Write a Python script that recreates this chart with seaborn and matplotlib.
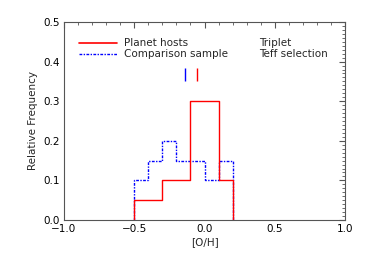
import matplotlib
matplotlib.use("Agg")
import matplotlib.pyplot as plt
import seaborn as sns
import numpy as np
import pandas as pd
from matplotlib.ticker import MultipleLocator

bin_edges = [-0.5, -0.4, -0.3, -0.2, -0.1, 0.0, 0.1, 0.2]
planet_freq = [0.05, 0.05, 0.10, 0.10, 0.30, 0.30, 0.10]
comparison_freq = [0.10, 0.15, 0.20, 0.15, 0.15, 0.10, 0.15]
planet_mean = -0.05
comparison_mean = -0.14
mean_marker_span = [0.352, 0.385]


def outline(edges, freq):
    xs, ys = [edges[0]], [0.0]
    for i, f in enumerate(freq):
        xs += [edges[i], edges[i + 1]]
        ys += [f, f]
    xs.append(edges[-1])
    ys.append(0.0)
    return pd.DataFrame({"x": xs, "y": ys})


sns.set_style("white")
plt.rcParams['font.family'] = ['DejaVu Sans']
plt.rcParams['font.size'] = 7.5

fig = plt.figure(figsize=(3.65, 2.61), dpi=100)
ax = fig.add_axes([64/365, 41/261, 281/365, 198/261])

sns.lineplot(data=outline(bin_edges, comparison_freq), x="x", y="y", sort=False,
             estimator=None, color="#0000ff", linestyle=(0, (2, 1, 1, 1)), linewidth=1.0, ax=ax)
sns.lineplot(data=outline(bin_edges, planet_freq), x="x", y="y", sort=False,
             estimator=None, color="#ff0000", linewidth=1.0, ax=ax)

ax.vlines([comparison_mean], *mean_marker_span, color="#0000ff", linewidth=1.0)
ax.vlines([planet_mean], *mean_marker_span, color="#ff0000", linewidth=1.0)

ax.set_xlim(-1.0, 1.0)
ax.set_ylim(0.0, 0.5)
ax.xaxis.set_major_locator(MultipleLocator(0.5))
ax.xaxis.set_minor_locator(MultipleLocator(0.1))
ax.yaxis.set_major_locator(MultipleLocator(0.1))
ax.yaxis.set_minor_locator(MultipleLocator(0.01))
ax.tick_params(which="both", direction="in", top=True, right=True, colors="#555555",
               labelcolor="black", labelsize=7.5)
ax.tick_params(which="major", length=4, width=0.8, pad=3)
ax.tick_params(which="minor", length=2, width=0.6)
for s in ax.spines.values():
    s.set_color("#555555")
    s.set_linewidth(0.8)

ax.set_xlabel("[O/H]", fontsize=7.5, labelpad=2)
ax.set_ylabel("Relative Frequency", fontsize=7.5, labelpad=4)

# legend-like annotations
ax.plot([-0.89, -0.62], [0.447, 0.447], color="#ff0000", linewidth=1.2)
ax.plot([-0.89, -0.62], [0.419, 0.419], color="#0000ff", linewidth=1.0, linestyle=(0, (2, 1, 1, 1)))
ax.text(-0.57, 0.447, "Planet hosts", fontsize=7.5, va="center", ha="left")
ax.text(-0.57, 0.419, "Comparison sample", fontsize=7.5, va="center", ha="left")
ax.text(0.39, 0.447, "Triplet", fontsize=7.5, va="center", ha="left")
ax.text(0.39, 0.419, "Teff selection", fontsize=7.5, va="center", ha="left")

fig.savefig("out.png", dpi=100)
